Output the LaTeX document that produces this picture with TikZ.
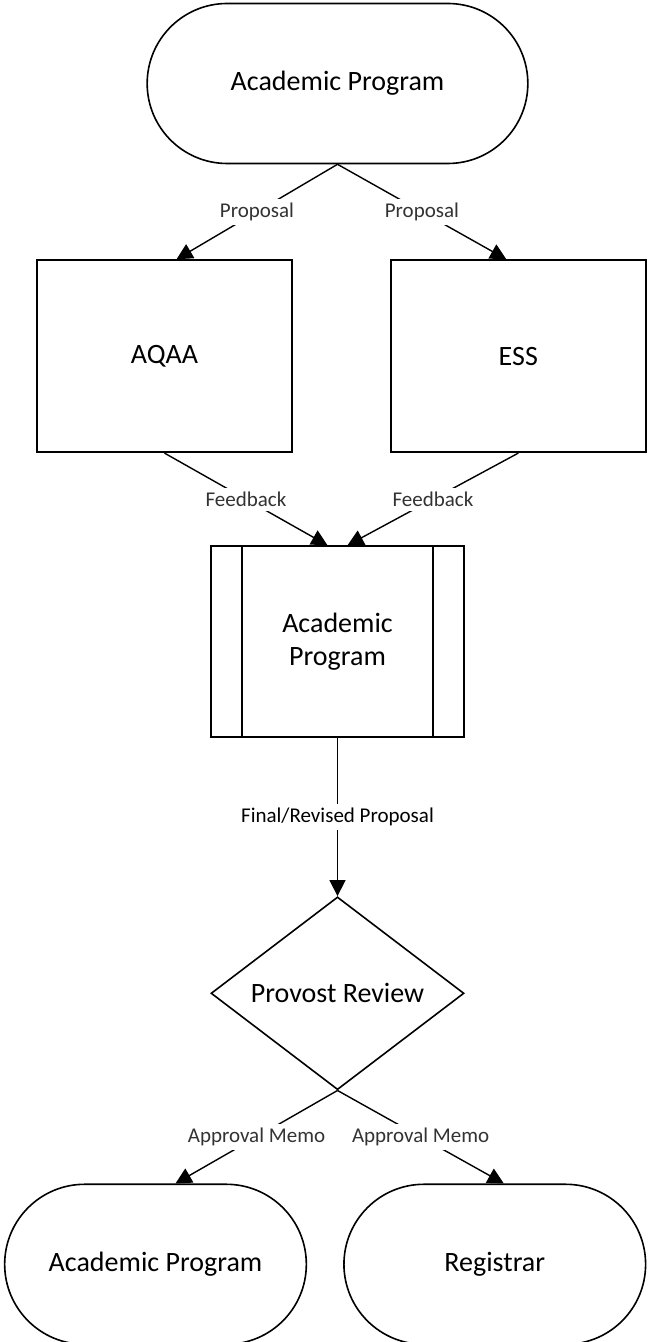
\documentclass[tikz,border=0pt]{standalone}
\usepackage{fontspec}
\setmainfont{Carlito}
\usetikzlibrary{arrows.meta,positioning,shapes.geometric,shapes.misc}

\begin{document}
\begin{tikzpicture}[
    x=0.5pt, y=-0.5pt,
    >={Triangle[length=8pt,width=8pt]},
    font=\fontsize{14}{16.8}\selectfont,
    term/.style={rounded rectangle, draw, line width=0.8pt, align=center,
                 minimum height=80pt},
    box/.style={rectangle, draw, line width=0.9pt, align=center,
                minimum width=127.5pt, minimum height=96pt},
    proc/.style={rectangle, draw, line width=0.9pt, align=center,
                 minimum width=126.5pt, minimum height=95.5pt},
    dec/.style={diamond, draw, line width=0.8pt, inner sep=0pt,
                minimum width=126.5pt, minimum height=96pt},
    arr/.style={->, line width=0.7pt},
    lbl/.style={fill=white, inner sep=2pt, text=black!80,
                font=\fontsize{10.5}{12}\selectfont}
]
\useasboundingbox (0,0) rectangle (647,1342);

% Start: the program sends its proposal out
\node[term, minimum width=197pt] (prog) at (337.5,83.5) {Academic Program};
\node[box, below=47.5pt of prog, xshift=-86.5pt] (aqaa) {AQAA};
\node[box, right=48.5pt of aqaa] (ess) {ESS};

% Revision step and review
\node[proc, below=190.5pt of prog] (revise) {Academic\\Program};
\draw[line width=0.9pt] ([xshift=16pt]revise.north west) -- ([xshift=16pt]revise.south west);
\draw[line width=0.9pt] ([xshift=-16pt]revise.north east) -- ([xshift=-16pt]revise.south east);
\node[dec, below=79pt of revise] (review) {Provost Review};

% End points
\node[term, minimum width=157.5pt, below=46.5pt of review, xshift=-91pt] (progend) {Academic Program};
\node[term, minimum width=157.5pt, right=18pt of progend] (registrar) {Registrar};

% Proposals
\draw[arr] (prog.south) -- ([xshift=6pt]aqaa.north) node[lbl, midway] {Proposal};
\draw[arr] (prog.south) -- ([xshift=-6pt]ess.north) node[lbl, midway] {Proposal};

% Feedback back to the program
\draw[arr] (aqaa.south) -- ([xshift=-5pt]revise.north) node[lbl, midway] {Feedback};
\draw[arr] (ess.south) -- ([xshift=5pt]revise.north) node[lbl, midway] {Feedback};

% Final proposal to the provost
\draw[arr] (revise.south) -- (review.north)
    node[lbl, midway, text=black] {Final/Revised Proposal};

% Approval memos
\draw[arr] (review.south) -- ([xshift=10pt]progend.north) node[lbl, midway] {Approval Memo};
\draw[arr] (review.south) -- ([xshift=4.5pt]registrar.north) node[lbl, midway] {Approval Memo};
\end{tikzpicture}
\end{document}
